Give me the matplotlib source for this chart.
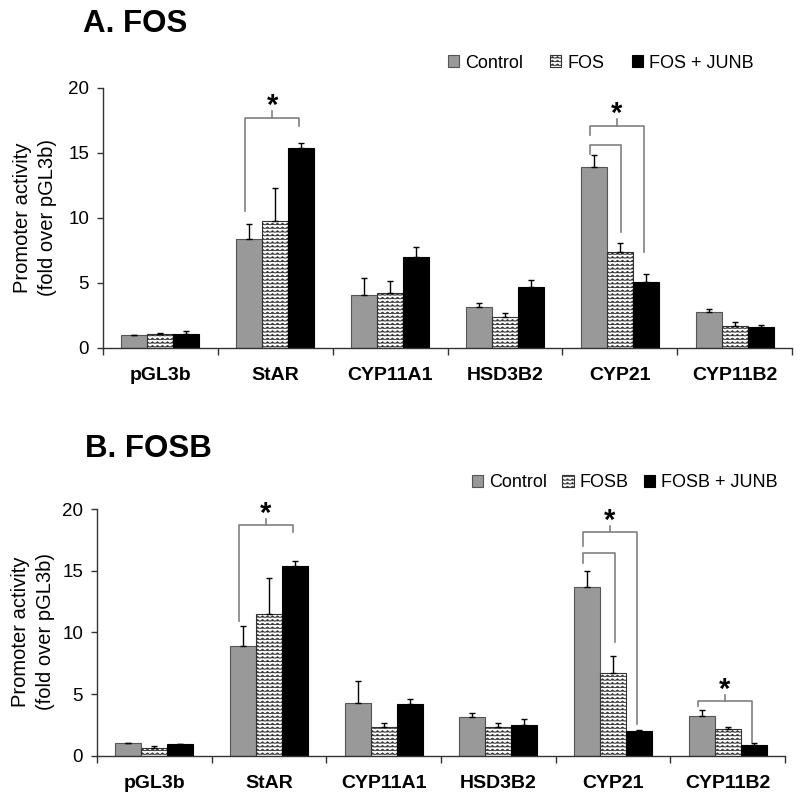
import warnings

import matplotlib
matplotlib.use("Agg")
import matplotlib.hatch as mhatch
import matplotlib.pyplot as plt
import numpy as np
from matplotlib.patches import Patch
from matplotlib.path import Path

warnings.filterwarnings("ignore")

plt.rcParams['font.family'] = ['Liberation Sans', 'DejaVu Sans']
plt.rcParams['hatch.linewidth'] = 0.55

# data
genes = ["pGL3b", "StAR", "CYP11A1", "HSD3B2", "CYP21", "CYP11B2"]

fos_ctrl         = [1.0, 8.4, 4.07, 3.18, 13.9, 2.75]
fos_ctrl_err     = [0.0, 1.1, 1.33, 0.26, 0.95, 0.22]
fos_fos          = [1.1, 9.77, 4.2, 2.4, 7.36, 1.72]
fos_fos_err      = [0.05, 2.5, 0.95, 0.27, 0.69, 0.25]
fos_junb         = [1.1, 15.35, 6.97, 4.7, 5.05, 1.6]
fos_junb_err     = [0.2, 0.4, 0.83, 0.5, 0.62, 0.2]

fosb_ctrl        = [1.0, 8.9, 4.27, 3.11, 13.7, 3.19]
fosb_ctrl_err    = [0.0, 1.6, 1.78, 0.38, 1.3, 0.51]
fosb_fosb        = [0.6, 11.46, 2.33, 2.35, 6.73, 2.19]
fosb_fosb_err    = [0.18, 2.94, 0.34, 0.32, 1.37, 0.11]
fosb_junb        = [0.92, 15.37, 4.19, 2.51, 2.03, 0.89]
fosb_junb_err    = [0.0, 0.43, 0.43, 0.46, 0.07, 0.16]

# significance brackets: gene, from group, to group, top, left leg end, right leg end, star
fos_brackets = [
    ("StAR", 0, 2, 17.7, 10.5, 17.1, True),
    ("CYP21", 0, 2, 17.1, 16.4, 7.4, True),
    ("CYP21", 0, 1, 15.6, 14.9, 8.9, False),
]
fosb_brackets = [
    ("StAR", 0, 2, 18.67, 10.9, 18.1, True),
    ("CYP21", 0, 2, 18.1, 17.0, 2.6, True),
    ("CYP21", 0, 1, 16.45, 15.6, 9.24, False),
    ("CYP11B2", 0, 2, 4.4, 4.03, 1.13, True),
]


class ZigZagHatch(mhatch.HatchPatternBase):
    """wavy fill like the old excel pattern, used with hatch='zzz'"""
    def __init__(self, hatch, density):
        self.rows = hatch.count('z') * 9
        self.teeth = 20
        self.num_vertices = self.rows * (2 * self.teeth + 1)

    def set_vertices_and_codes(self, vertices, codes):
        n = 2 * self.teeth + 1
        xs = np.linspace(0, 1, n)
        amp = np.where(np.arange(n) % 2 == 0, -0.009, 0.009)
        for i in range(self.rows):
            y0 = (i + 0.5) / self.rows
            vertices[i * n:(i + 1) * n, 0] = xs
            vertices[i * n:(i + 1) * n, 1] = y0 + amp
            codes[i * n] = Path.MOVETO
            codes[i * n + 1:(i + 1) * n] = Path.LINETO


mhatch._hatch_types.append(ZigZagHatch)

styles = [
    dict(color="#999999", edgecolor="#555555", hatch=None),
    dict(color="white", edgecolor="#333333", hatch="zzz"),
    dict(color="black", edgecolor="black", hatch=None),
]
bw = 0.226
offsets = [-bw, 0, bw]
leg_x = [-0.262, 0.015, 0.21]
bracket_color = "#808080"


def panel(ax, series, errs, brackets, labels, legend_xy, colspace):
    x = np.arange(len(genes))
    for k in range(3):
        ax.bar(x + offsets[k], series[k], width=bw, linewidth=0.8, **styles[k])
        ax.errorbar(x + offsets[k], series[k], yerr=[np.zeros(len(genes)), errs[k]],
                    fmt='none', ecolor='black', elinewidth=1, capsize=2.5, capthick=1)

    for gene, g0, g1, top, yl, yr, star in brackets:
        c = genes.index(gene)
        xl, xr = c + leg_x[g0], c + leg_x[g1]
        ax.plot([xl, xl, xr, xr], [yl, top, top, yr], color=bracket_color, lw=1.2,
                clip_on=False)
        if star:
            xm = (xl + xr) / 2
            ax.plot([xm, xm], [top, top + 0.5], color=bracket_color, lw=1.2, clip_on=False)
            ax.annotate("*", (xm, top + 0.5), xytext=(0, -2), textcoords="offset points",
                        ha="center", va="baseline", fontsize=21, fontweight="bold",
                        annotation_clip=False)

    ax.set_xlim(-0.5, len(genes) - 0.5)
    ax.set_ylim(0, 20)
    ax.set_yticks([0, 5, 10, 15, 20])
    ax.set_xticks(x)
    ax.set_xticklabels(genes, fontweight="bold", fontsize=14)
    ax.set_xticks(np.arange(len(genes) + 1) - 0.5, minor=True)
    ax.tick_params(axis="x", which="major", length=0, pad=14)
    ax.tick_params(axis="x", which="minor", length=5, width=1, color="#333333")
    ax.tick_params(axis="y", length=4, width=1, labelsize=13.5, pad=6, color="#333333")
    for s in ("top", "right"):
        ax.spines[s].set_visible(False)
    for s in ("left", "bottom"):
        ax.spines[s].set_color("#333333")
        ax.spines[s].set_linewidth(1.0)

    handles = [Patch(facecolor=st["color"], edgecolor=st["edgecolor"], hatch=st["hatch"],
                     linewidth=0.8) for st in styles]
    fig.legend(handles, labels, loc="center right", bbox_to_anchor=legend_xy, ncol=3,
               frameon=False, fontsize=13, handlelength=0.62, handleheight=0.62,
               handletextpad=0.35, columnspacing=colspace, borderpad=0, borderaxespad=0)


fig = plt.figure(figsize=(8, 8.02), dpi=100)
axA = fig.add_axes([0.12875, 0.5661, 0.86125, 0.3242])
axB = fig.add_axes([0.12125, 0.0577, 0.86, 0.3076])

panel(axA, [fos_ctrl, fos_fos, fos_junb], [fos_ctrl_err, fos_fos_err, fos_junb_err],
      fos_brackets, ["Control", "FOS", "FOS + JUNB"], (754 / 800, 1 - 63 / 802), 1.5)
panel(axB, [fosb_ctrl, fosb_fosb, fosb_junb], [fosb_ctrl_err, fosb_fosb_err, fosb_junb_err],
      fosb_brackets, ["Control", "FOSB", "FOSB + JUNB"], (778 / 800, 1 - 483 / 802), 0.83)

fig.text(83 / 800, 1 - 32 / 802, "A. FOS", fontsize=22.5, fontweight="bold", va="baseline")
fig.text(85 / 800, 1 - 457 / 802, "B. FOSB", fontsize=22.5, fontweight="bold", va="baseline")

ylab = "Promoter activity\n(fold over pGL3b)"
fig.text(35 / 800, 1 - 218 / 802, ylab, rotation=90, ha="center", va="center",
         fontsize=14.5, linespacing=1.45, multialignment="center")
fig.text(33 / 800, 1 - 632 / 802, ylab, rotation=90, ha="center", va="center",
         fontsize=14.5, linespacing=1.45, multialignment="center")

fig.savefig("out.png", dpi=100)
